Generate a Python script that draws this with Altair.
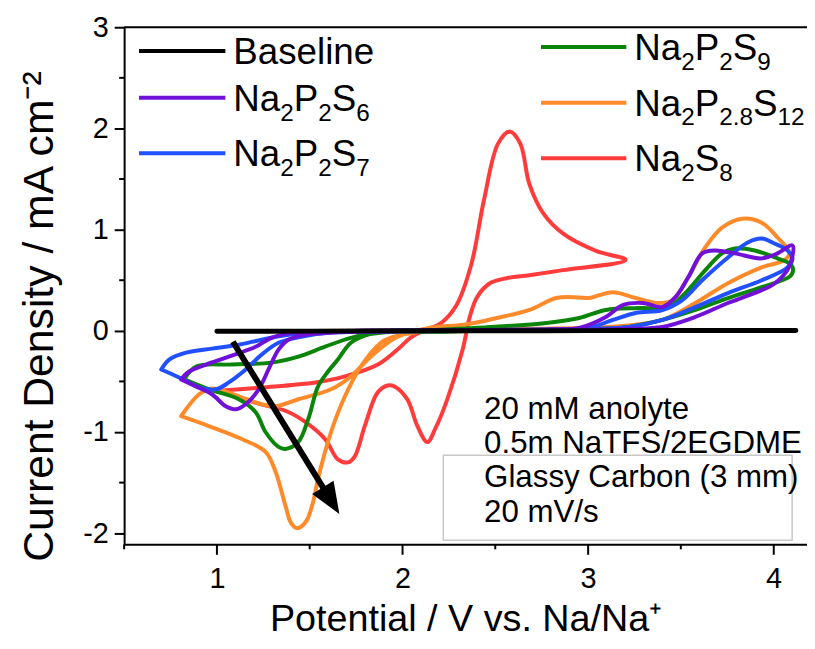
import altair as alt
import pandas as pd

FONT = "Liberation Sans"

# ---------------- data ----------------
series_names = ["Baseline", "Na2P2S6", "Na2P2S7", "Na2P2S9", "Na2P2.8S12", "Na2S8"]
series_colors = ["#000000", "#7010D8", "#2050FF", "#0A850A", "#FF8A2A", "#FF3B3B"]

baseline_x = [1.0, 1.5, 2.0, 2.5, 3.0, 3.5, 4.12]
baseline_y = [-0.005, -0.003, 0.0, 0.0, 0.002, 0.003, 0.004]

s6_x = [0.807, 0.850, 0.941, 1.064, 1.209, 1.294, 1.401, 1.529, 1.8, 2.2, 2.6, 2.8, 2.952, 3.096, 3.187,
        3.294, 3.401, 3.471, 3.540, 3.615, 3.684, 3.791, 3.936, 4.021, 4.102, 4.08, 4.0, 3.936, 3.754,
        3.578, 3.401, 3.219, 2.9, 2.5, 2.0, 1.7, 1.599, 1.476, 1.385, 1.332, 1.278, 1.225, 1.155, 1.102,
        1.048, 0.973, 0.888, 0.807]
s6_y = [-0.48, -0.402, -0.333, -0.255, -0.157, -0.069, -0.02, -0.01, 0.0, 0.005, 0.01, 0.015, 0.029,
        0.137, 0.255, 0.275, 0.235, 0.333, 0.529, 0.765, 0.794, 0.765, 0.716, 0.765, 0.843, 0.62, 0.46,
        0.402, 0.275, 0.137, 0.039, 0.02, 0.01, 0.0, -0.005, -0.01, -0.02, -0.039, -0.088, -0.186, -0.382,
        -0.578, -0.725, -0.775, -0.745, -0.627, -0.549, -0.48]

s7_x = [0.70, 0.743, 0.834, 0.973, 1.118, 1.241, 1.385, 1.529, 1.8, 2.2, 2.6, 2.85, 3.005, 3.134, 3.257,
        3.401, 3.508, 3.615, 3.754, 3.861, 3.936, 4.005, 4.075, 4.102, 4.075, 3.936, 3.754, 3.578, 3.401,
        3.219, 2.9, 2.5, 2.0, 1.75, 1.599, 1.455, 1.332, 1.241, 1.155, 1.064, 0.995, 0.904, 0.797, 0.70]
s7_y = [-0.382, -0.284, -0.216, -0.176, -0.137, -0.088, -0.039, -0.012, 0.0, 0.003, 0.01, 0.015, 0.029,
        0.108, 0.176, 0.206, 0.304, 0.5, 0.725, 0.873, 0.912, 0.863, 0.794, 0.716, 0.627, 0.50, 0.373,
        0.235, 0.108, 0.039, 0.015, 0.0, -0.005, -0.01, -0.02, -0.059, -0.118, -0.235, -0.382, -0.51,
        -0.578, -0.559, -0.461, -0.382]

s9_x = [0.824, 0.888, 1.08, 1.294, 1.439, 1.583, 1.722, 1.882, 2.1, 2.3, 2.5, 2.775, 2.952, 3.096, 3.273,
        3.433, 3.524, 3.631, 3.722, 3.791, 3.898, 4.021, 4.09, 4.105, 4.09, 3.936, 3.754, 3.578, 3.401,
        3.219, 3.043, 2.7, 2.4, 2.2, 1.973, 1.829, 1.722, 1.652, 1.599, 1.545, 1.492, 1.439, 1.369, 1.332,
        1.262, 1.209, 1.118, 0.957, 0.824]
s9_y = [-0.48, -0.353, -0.333, -0.314, -0.255, -0.157, -0.069, -0.02, 0.0, 0.02, 0.04, 0.078, 0.127,
        0.206, 0.225, 0.235, 0.373, 0.598, 0.765, 0.814, 0.794, 0.716, 0.66, 0.60, 0.54, 0.431, 0.324,
        0.206, 0.108, 0.039, 0.02, 0.01, 0.0, -0.01, -0.01, -0.03, -0.118, -0.284, -0.402, -0.549, -0.873,
        -1.098, -1.167, -1.147, -1.0, -0.804, -0.676, -0.578, -0.48]

s12_x = [0.807, 0.904, 0.973, 1.118, 1.241, 1.316, 1.439, 1.615, 1.722, 1.829, 1.973, 2.15, 2.33, 2.508,
         2.684, 2.829, 2.95, 3.005, 3.134, 3.257, 3.380, 3.455, 3.540, 3.631, 3.722, 3.829, 3.936, 4.021,
         4.086, 4.06, 3.936, 3.754, 3.578, 3.401, 3.2, 3.0, 2.7, 2.4, 2.2, 2.06, 1.95, 1.882, 1.775, 1.690,
         1.615, 1.545, 1.519, 1.481, 1.433, 1.40, 1.369, 1.316, 1.262, 1.134, 0.957, 0.807]
s12_y = [-0.843, -0.627, -0.569, -0.647, -0.725, -0.745, -0.676, -0.578, -0.451, -0.255, -0.059, 0.03,
         0.06, 0.127, 0.206, 0.324, 0.33, 0.324, 0.382, 0.324, 0.275, 0.304, 0.529, 0.824, 1.020, 1.108,
         1.069, 0.922, 0.775, 0.70, 0.627, 0.471, 0.275, 0.108, 0.05, 0.03, 0.02, 0.01, 0.0, -0.02, -0.06,
         -0.12, -0.353, -0.647, -1.0, -1.461, -1.686, -1.882, -1.95, -1.90, -1.725, -1.392, -1.196, -1.069,
         -0.941, -0.843]

s8_x = [1.03, 1.24, 1.53, 1.69, 1.87, 1.97, 2.05, 2.13, 2.21, 2.29, 2.37, 2.44, 2.515, 2.578, 2.635,
        2.684, 2.759, 2.866, 3.043, 3.203, 2.866, 2.684, 2.561, 2.471, 2.401, 2.36, 2.325, 2.241, 2.176,
        2.134, 2.080, 2.027, 1.957, 1.920, 1.866, 1.797, 1.743, 1.706, 1.652, 1.583, 1.476, 1.369, 1.225,
        1.091, 1.03]
s8_y = [-0.59, -0.56, -0.51, -0.45, -0.33, -0.19, -0.06, 0.01, 0.08, 0.25, 0.65, 1.30, 1.85, 1.97, 1.85,
        1.45, 1.16, 0.96, 0.79, 0.70, 0.60, 0.55, 0.52, 0.47, 0.33, 0.12, -0.18, -0.68, -0.97, -1.10, -0.94,
        -0.68, -0.55, -0.54, -0.61, -0.94, -1.24, -1.30, -1.27, -1.07, -0.90, -0.79, -0.72, -0.64, -0.59]

# annotation text and box
note_lines = ["20 mM anolyte", "0.5m NaTFS/2EGDME", "Glassy Carbon (3 mm)", "20 mV/s"]
note_x = [2.44, 2.44, 2.44, 2.44]
note_y = [-0.87, -1.21, -1.545, -1.885]
box_x = [2.22, 4.10]
box_y = [-1.23, -2.07]

# arrow (start, end of shaft, head centre)
arrow_x = [1.086, 1.6155]
arrow_y = [-0.108, -1.678]
arrow_angle = 148.3

# axis ticks
x_major = [1, 2, 3, 4]
x_minor = [0.5, 1.5, 2.5, 3.5]
y_major = [-2, -1, 0, 1, 2, 3]
y_minor = [-1.5, -0.5, 0.5, 1.5, 2.5]

# legend labels: (text, is_subscript) segments
legend_labels = {
    "Baseline": [("Baseline", 0)],
    "Na2P2S6": [("Na", 0), ("2", 1), ("P", 0), ("2", 1), ("S", 0), ("6", 1)],
    "Na2P2S7": [("Na", 0), ("2", 1), ("P", 0), ("2", 1), ("S", 0), ("7", 1)],
    "Na2P2S9": [("Na", 0), ("2", 1), ("P", 0), ("2", 1), ("S", 0), ("9", 1)],
    "Na2P2.8S12": [("Na", 0), ("2", 1), ("P", 0), ("2.8", 1), ("S", 0), ("12", 1)],
    "Na2S8": [("Na", 0), ("2", 1), ("S", 0), ("8", 1)],
}

# ---------------- layout ----------------
W, H = 688, 521
XDOM = [0.5, 4.18]
YDOM = [-2.11, 3.0]
LEG_F = 37
SUB_F = 24.5
LEG_COLS = [(15, 102, 110, ["Baseline", "Na2P2S6", "Na2P2S7"], [24, 71, 127]),
            (420, 506, 514, ["Na2P2S9", "Na2P2.8S12", "Na2S8"], [20, 76, 132])]

# Arial / Liberation Sans advance widths (per em)
ADV = {"N": 0.722, "a": 0.556, "P": 0.667, "S": 0.667, ".": 0.278, "B": 0.667, "s": 0.5,
       "e": 0.556, "l": 0.222, "i": 0.222, "n": 0.556}
for d in "0123456789":
    ADV[d] = 0.556

curves = [("Na2S8", s8_x, s8_y), ("Na2P2.8S12", s12_x, s12_y), ("Na2P2S9", s9_x, s9_y),
          ("Na2P2S7", s7_x, s7_y), ("Na2P2S6", s6_x, s6_y), ("Baseline", baseline_x, baseline_y)]
rows = []
for name, xs, ys in curves:
    for i, (xv, yv) in enumerate(zip(xs, ys)):
        rows.append({"series": name, "idx": i, "x": xv, "y": yv})
df = pd.DataFrame(rows)

xscale = alt.Scale(domain=XDOM, nice=False, zero=False)
yscale = alt.Scale(domain=YDOM, nice=False, zero=False)
cscale = alt.Scale(domain=series_names, range=series_colors)

xaxis = alt.Axis(values=x_major, title="Potential / V vs. Na/Na⁺", format="d",
                 tickSize=10, tickWidth=2, tickColor="black", domainColor="black", domainWidth=2,
                 labelFont=FONT, labelFontSize=29, labelColor="black", labelPadding=10,
                 titleFont=FONT, titleFontSize=38, titleFontWeight="normal", titleColor="black",
                 titleY=87, titleBaseline="alphabetic", grid=False)
yaxis = alt.Axis(values=y_major, title="Current Density / mA cm⁻²", labelExpr="'' + datum.value",
                 tickSize=10, tickWidth=2, tickColor="black", domainColor="black", domainWidth=2,
                 labelFont=FONT, labelFontSize=29, labelColor="black", labelPadding=6,
                 titleFont=FONT, titleFontSize=43, titleFontWeight="normal", titleColor="black",
                 titleAngle=270, titleX=-72, titleY=291, titleBaseline="alphabetic", titleAlign="center",
                 grid=False)


def X(f):
    return alt.X(f"{f}:Q", scale=xscale, axis=xaxis)


def Y(f):
    return alt.Y(f"{f}:Q", scale=yscale, axis=yaxis)


layers = []
for name, _, _ in curves:
    sw = 5 if name == "Baseline" else 4
    layers.append(
        alt.Chart(df[df.series == name]).mark_line(
            interpolate="catmull-rom", strokeWidth=sw, strokeCap="round", strokeJoin="round"
        ).encode(x=X("x"), y=Y("y"), order=alt.Order("idx:Q"),
                 color=alt.Color("series:N", scale=cscale, legend=None))
    )

# top frame line
layers.append(alt.Chart(pd.DataFrame({"a": [0]})).mark_rule(color="black", strokeWidth=2).encode(
    x=alt.value(0), x2=alt.value(W), y=alt.value(0)))

# minor ticks
layers.append(alt.Chart(pd.DataFrame({"x": x_minor})).mark_rule(color="black", strokeWidth=2).encode(
    x=X("x"), y=alt.value(H), y2=alt.value(H + 5)))
layers.append(alt.Chart(pd.DataFrame({"y": y_minor})).mark_rule(color="black", strokeWidth=2).encode(
    y=Y("y"), x=alt.value(-5), x2=alt.value(0)))

# annotation box + text
layers.append(alt.Chart(pd.DataFrame({"x": [box_x[0]], "x2": [box_x[1]], "y": [box_y[0]], "y2": [box_y[1]]}))
              .mark_rect(fillOpacity=0, stroke="#c8c8c8", strokeWidth=1.5).encode(
    x=X("x"), x2="x2:Q", y=Y("y"), y2="y2:Q"))
layers.append(alt.Chart(pd.DataFrame({"x": note_x, "y": note_y, "t": note_lines})).mark_text(
    align="left", baseline="alphabetic", font=FONT, fontSize=31.5, color="black").encode(
    x=X("x"), y=Y("y"), text="t:N"))

# legend
sym_rows, txt_rows = [], []
for x1, x2, tx, names, ys in LEG_COLS:
    for name, yy in zip(names, ys):
        sym_rows.append({"x1": x1, "x2": x2, "yy": yy, "col": series_colors[series_names.index(name)]})
        cx = tx
        for seg, sub in legend_labels[name]:
            fs = SUB_F if sub else LEG_F
            txt_rows.append({"px": cx, "py": yy + 13 + (10 if sub else 0), "t": seg, "fs": fs})
            cx += sum(ADV[c] for c in seg) * fs
layers.append(alt.Chart(pd.DataFrame(sym_rows)).mark_rule(strokeWidth=4).encode(
    x=alt.X("x1:Q", scale=None, axis=None), x2="x2:Q",
    y=alt.Y("yy:Q", scale=None, axis=None), color=alt.Color("col:N", scale=None)))
layers.append(alt.Chart(pd.DataFrame(txt_rows)).mark_text(
    align="left", baseline="alphabetic", font=FONT, color="black").encode(
    x=alt.X("px:Q", scale=None, axis=None), y=alt.Y("py:Q", scale=None, axis=None),
    text="t:N", size=alt.Size("fs:Q", scale=None)))

# arrow
layers.append(alt.Chart(pd.DataFrame({"x": [arrow_x[0]], "x2": [arrow_x[1]], "y": [arrow_y[0]], "y2": [arrow_y[1]]}))
              .mark_rule(color="black", strokeWidth=6).encode(x=X("x"), x2="x2:Q", y=Y("y"), y2="y2:Q"))
layers.append(alt.Chart(pd.DataFrame({"x": [arrow_x[1]], "y": [arrow_y[1]]})).mark_point(
    shape="M0,-1L0.8,1L-0.8,1Z", filled=True, size=1000, angle=arrow_angle, color="black", opacity=1,
    strokeWidth=0).encode(x=X("x"), y=Y("y")))

chart = alt.layer(*layers).properties(
    width=W, height=H,
    autosize=alt.AutoSizeParams(type="none"),
    padding={"left": 117, "top": 17, "right": 0, "bottom": 95},
    background="white",
).configure_view(strokeWidth=0)

chart.save("out.html", embed_options={"renderer": "svg", "actions": False})
